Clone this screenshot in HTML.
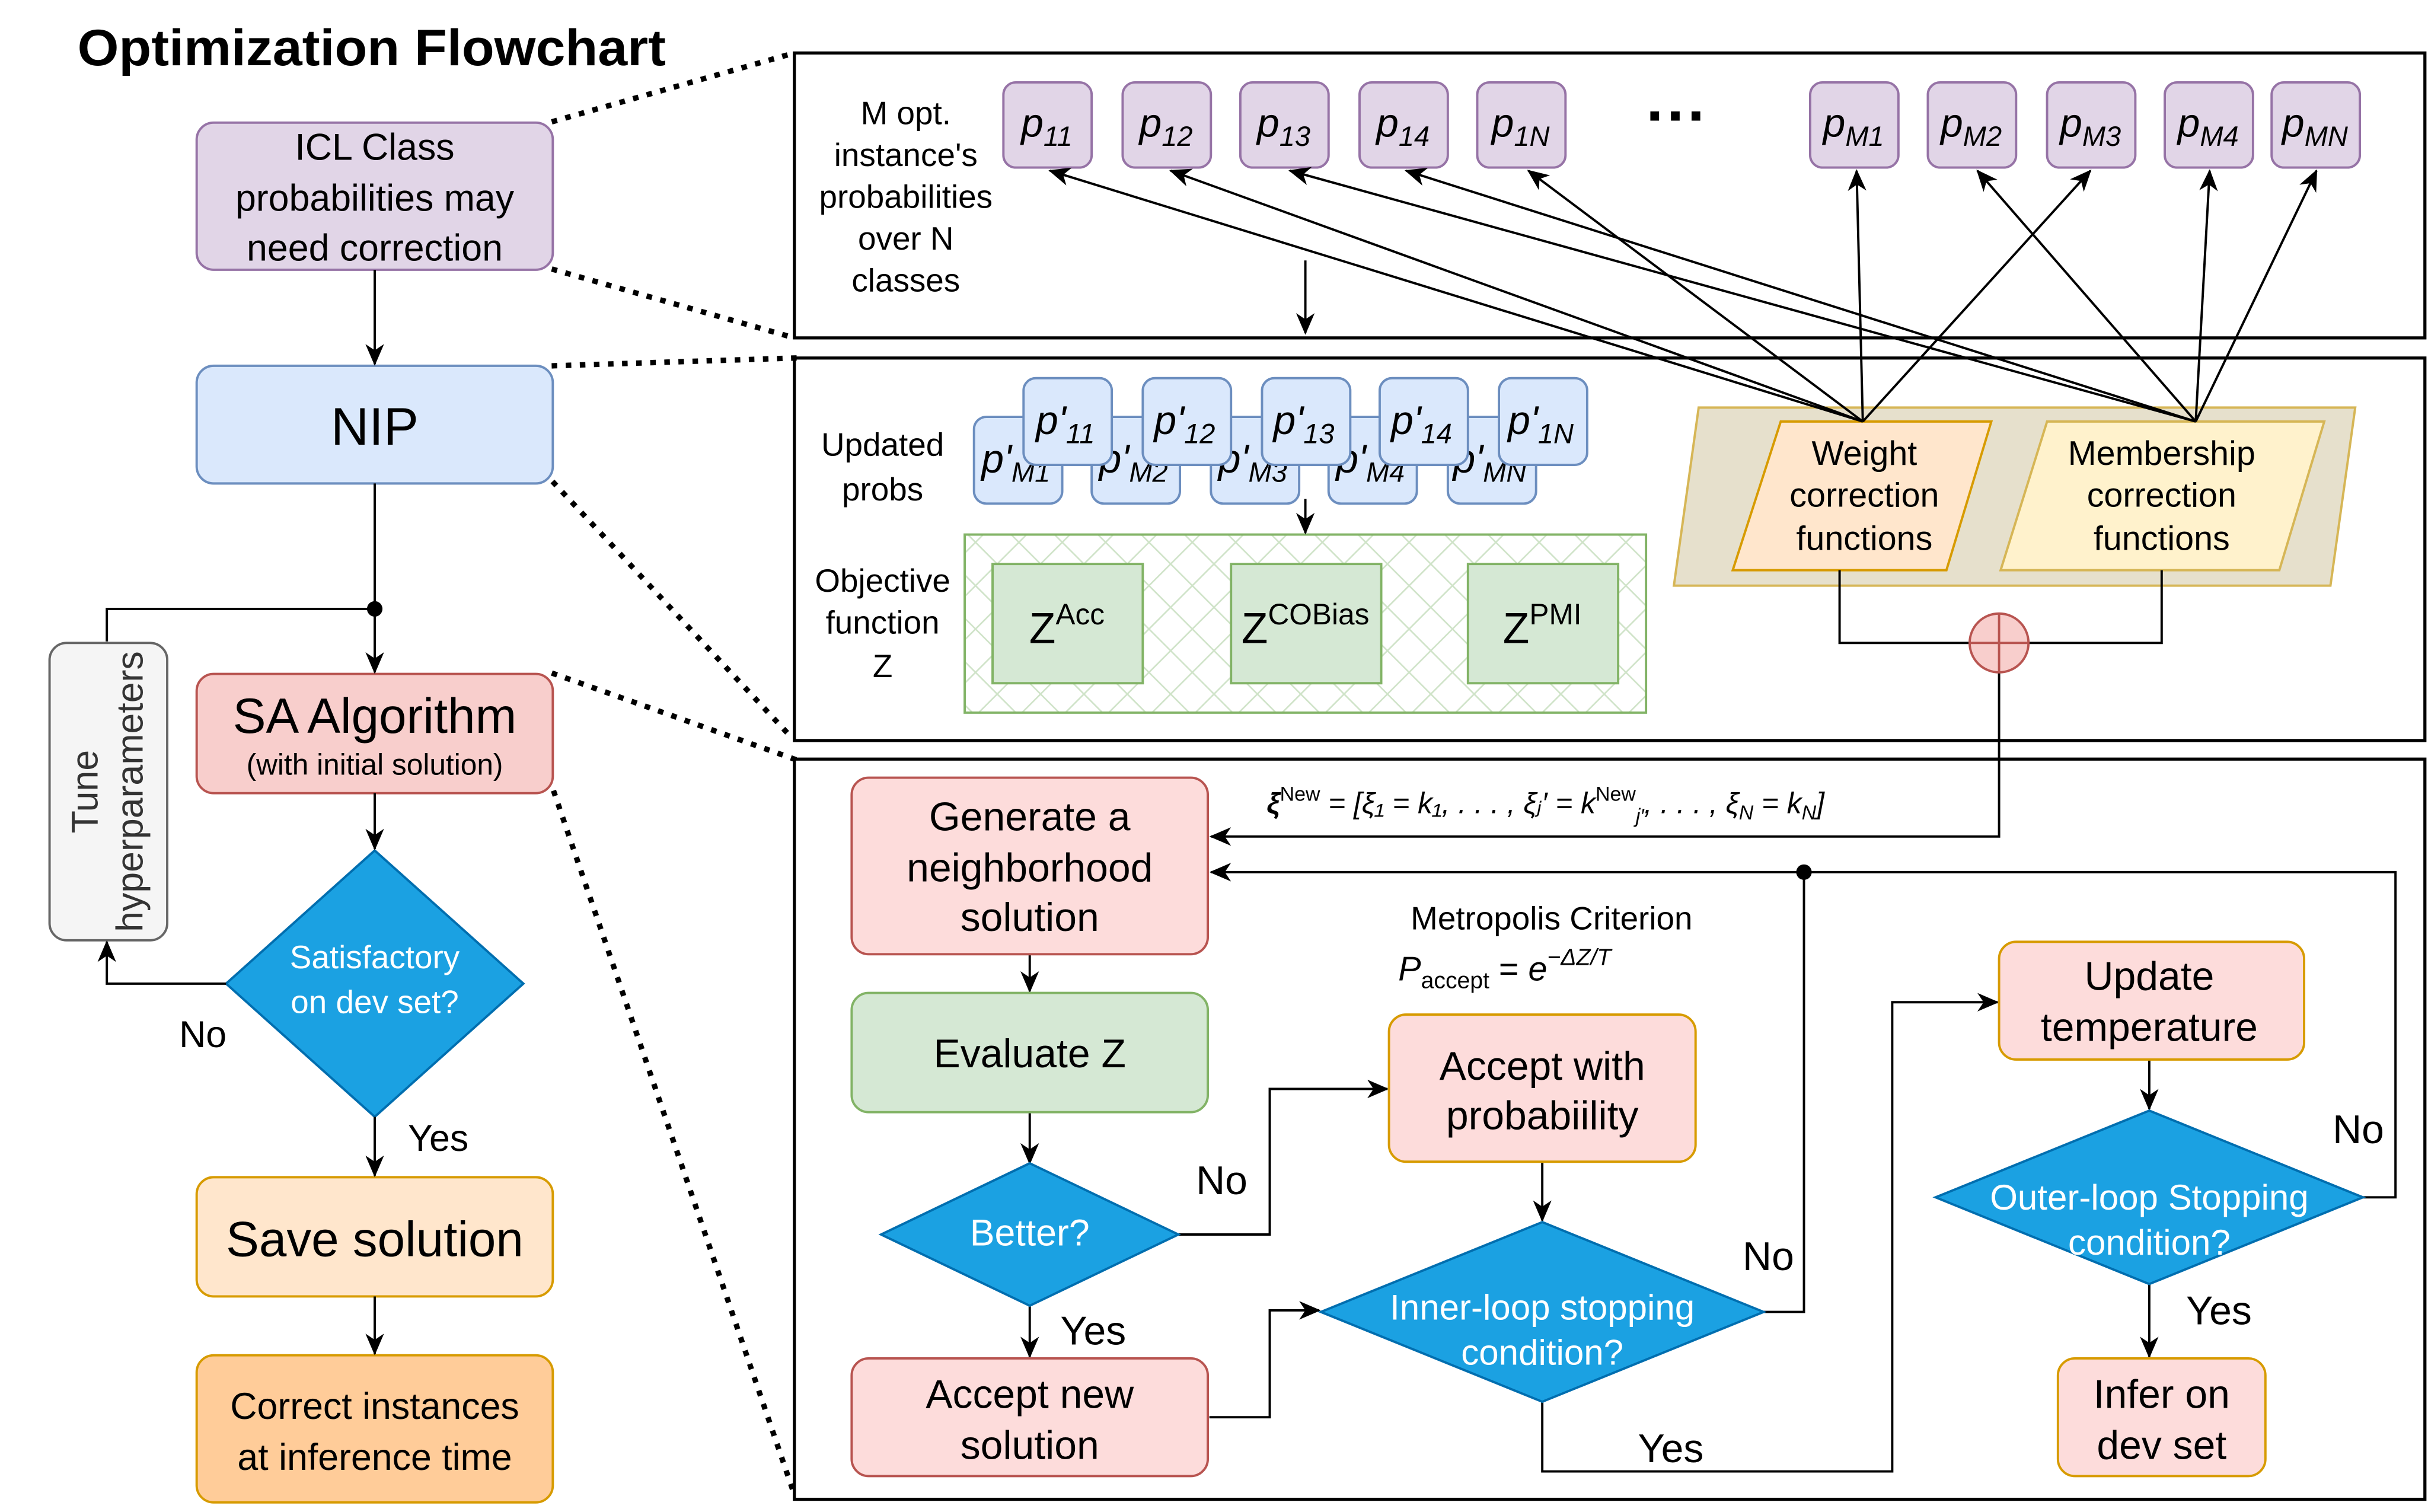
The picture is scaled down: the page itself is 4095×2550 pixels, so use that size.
<!DOCTYPE html>
<html><head><meta charset="utf-8"><style>html,body{margin:0;padding:0;background:#fff}svg{display:block}text{font-family:"Liberation Sans","DejaVu Sans",sans-serif}</style></head><body>
<svg width="4095" height="2550" viewBox="0 0 1568 976" xmlns="http://www.w3.org/2000/svg">
<defs>
<marker id="a" markerUnits="userSpaceOnUse" markerWidth="14" markerHeight="12" refX="13" refY="6" orient="auto"><path d="M0,0 L14,6 L0,12 L4,6 Z" fill="#000"/></marker>
<pattern id="h" width="28" height="28" patternUnits="userSpaceOnUse"><rect width="28" height="28" fill="#fff"/><path d="M0,0 L28,28 M28,0 L0,28" stroke="#cfe3c8" stroke-width="1"/></pattern>
</defs>
<g fill="none" stroke="#000" stroke-width="3.5" stroke-dasharray="0.1 9" stroke-linecap="square">
<line x1="358" y1="78" x2="513" y2="34"/><line x1="358" y1="174" x2="513" y2="218"/><line x1="358" y1="236" x2="513" y2="231"/><line x1="358" y1="312" x2="513" y2="478"/><line x1="358" y1="435" x2="513" y2="490"/><line x1="358" y1="512" x2="513" y2="965"/>
</g>
<text x="50" y="42" font-size="33" font-weight="bold" textLength="380" lengthAdjust="spacingAndGlyphs">Optimization Flowchart</text>
<g stroke-width="1.5">
<rect x="127" y="79" width="230" height="95" rx="11" fill="#e1d5e7" stroke="#9673a6"/>
<rect x="127" y="236" width="230" height="76" rx="11" fill="#dae8fc" stroke="#6c8ebf"/>
<rect x="32" y="415" width="76" height="192" rx="11" fill="#f5f5f5" stroke="#666"/>
<rect x="127" y="435" width="230" height="77" rx="11" fill="#f8cecc" stroke="#b85450"/>
<polygon points="242,549 338,635 242,721 146,635" fill="#1ba1e2" stroke="#006eaf"/>
<rect x="127" y="760" width="230" height="77" rx="11" fill="#ffe6cc" stroke="#d79b00"/>
<rect x="127" y="875" width="230" height="95" rx="11" fill="#ffcc99" stroke="#d79b00"/>
</g>
<g font-size="24" text-anchor="middle">
<text x="242" y="103">ICL Class</text><text x="242" y="136">probabilities may</text><text x="242" y="168">need correction</text>
<text x="242" y="287" font-size="34">NIP</text>
<text x="242" y="473" font-size="32">SA Algorithm</text><text x="242" y="500" font-size="19">(with initial solution)</text>
<text x="242" y="811" font-size="32">Save solution</text>
<text x="242" y="916">Correct instances</text><text x="242" y="949">at inference time</text>
<text x="242" y="625" font-size="21" fill="#fff">Satisfactory</text><text x="242" y="654" font-size="21" fill="#fff">on dev set?</text>
<text transform="translate(63,511) rotate(-90)" font-size="24" fill="#333">Tune</text>
<text transform="translate(92,511) rotate(-90)" font-size="24" fill="#333">hyperparameters</text>
<text x="131" y="676">No</text><text x="283" y="743">Yes</text>
</g>
<g fill="none" stroke="#000" stroke-width="1.5" marker-end="url(#a)">
<line x1="242" y1="174" x2="242" y2="235"/><line x1="242" y1="312" x2="242" y2="434"/>
<polyline points="242,393 69,393 69,414" marker-end="none"/>
<line x1="242" y1="512" x2="242" y2="548"/><polyline points="146,635 69,635 69,608"/>
<line x1="242" y1="721" x2="242" y2="759"/><line x1="242" y1="837" x2="242" y2="874"/>
</g>
<circle cx="242" cy="393" r="5" fill="#000"/>
<g fill="none" stroke="#000" stroke-width="2"><rect x="513" y="34" width="1053" height="184"/><rect x="513" y="231" width="1053" height="247"/><rect x="513" y="490" width="1053" height="478"/></g>
<g font-size="21" text-anchor="middle"><text x="585" y="80">M opt.</text><text x="585" y="107">instance's</text><text x="585" y="134">probabilities</text><text x="585" y="161">over N</text><text x="585" y="188">classes</text>
<text x="570" y="294">Updated</text><text x="570" y="323">probs</text><text x="570" y="382">Objective</text><text x="570" y="409">function</text><text x="570" y="437">Z</text></g>
<g stroke="#9673a6" stroke-width="1.5" fill="#e1d5e7">
<rect x="648" y="53" width="57" height="55" rx="8"/><rect x="725" y="53" width="57" height="55" rx="8"/><rect x="801" y="53" width="57" height="55" rx="8"/><rect x="878" y="53" width="57" height="55" rx="8"/><rect x="954" y="53" width="57" height="55" rx="8"/>
<rect x="1169" y="53" width="57" height="55" rx="8"/><rect x="1245" y="53" width="57" height="55" rx="8"/><rect x="1322" y="53" width="57" height="55" rx="8"/><rect x="1398" y="53" width="57" height="55" rx="8"/><rect x="1467" y="53" width="57" height="55" rx="8"/>
</g>
<g font-size="26" font-style="italic" text-anchor="middle">
<text x="676" y="88">p<tspan font-size="18" dy="6">11</tspan></text><text x="753" y="88">p<tspan font-size="18" dy="6">12</tspan></text><text x="829" y="88">p<tspan font-size="18" dy="6">13</tspan></text><text x="906" y="88">p<tspan font-size="18" dy="6">14</tspan></text><text x="982" y="88">p<tspan font-size="18" dy="6">1N</tspan></text>
<text x="1197" y="88">p<tspan font-size="18" dy="6">M1</tspan></text><text x="1273" y="88">p<tspan font-size="18" dy="6">M2</tspan></text><text x="1350" y="88">p<tspan font-size="18" dy="6">M3</tspan></text><text x="1426" y="88">p<tspan font-size="18" dy="6">M4</tspan></text><text x="1495" y="88">p<tspan font-size="18" dy="6">MN</tspan></text>
</g>
<text x="1083" y="88" font-size="40" font-weight="bold" text-anchor="middle">···</text>
<g stroke="#6c8ebf" stroke-width="1.5" fill="#dae8fc">
<rect x="629" y="269" width="57" height="56" rx="8"/><rect x="705" y="269" width="57" height="56" rx="8"/><rect x="782" y="269" width="57" height="56" rx="8"/><rect x="858" y="269" width="57" height="56" rx="8"/><rect x="935" y="269" width="57" height="56" rx="8"/>
</g>
<g font-size="26" font-style="italic" text-anchor="middle">
<text x="656" y="305">p'<tspan font-size="18" dy="6">M1</tspan></text><text x="732" y="305">p'<tspan font-size="18" dy="6">M2</tspan></text><text x="809" y="305">p'<tspan font-size="18" dy="6">M3</tspan></text><text x="885" y="305">p'<tspan font-size="18" dy="6">M4</tspan></text><text x="962" y="305">p'<tspan font-size="18" dy="6">MN</tspan></text>
</g>
<g stroke="#6c8ebf" stroke-width="1.5" fill="#dae8fc">
<rect x="661" y="244" width="57" height="56" rx="8"/><rect x="738" y="244" width="57" height="56" rx="8"/><rect x="815" y="244" width="57" height="56" rx="8"/><rect x="891" y="244" width="57" height="56" rx="8"/><rect x="968" y="244" width="57" height="56" rx="8"/>
</g>
<g font-size="26" font-style="italic" text-anchor="middle">
<text x="688" y="280">p'<tspan font-size="18" dy="6">11</tspan></text><text x="765" y="280">p'<tspan font-size="18" dy="6">12</tspan></text><text x="842" y="280">p'<tspan font-size="18" dy="6">13</tspan></text><text x="918" y="280">p'<tspan font-size="18" dy="6">14</tspan></text><text x="995" y="280">p'<tspan font-size="18" dy="6">1N</tspan></text>
</g>
<rect x="623" y="345" width="440" height="115" fill="url(#h)" stroke="#82b366" stroke-width="1.5"/>
<g fill="#d5e8d4" stroke="#82b366" stroke-width="1.5"><rect x="641" y="364" width="97" height="77"/><rect x="795" y="364" width="97" height="77"/><rect x="948" y="364" width="97" height="77"/></g>
<g font-size="28" text-anchor="middle"><text x="689" y="415">Z<tspan font-size="19" dy="-12">Acc</tspan></text><text x="843" y="415">Z<tspan font-size="19" dy="-12">COBias</tspan></text><text x="996" y="415">Z<tspan font-size="19" dy="-12">PMI</tspan></text></g>
<polygon points="1097,263 1521,263 1505,378 1081,378" fill="#e6e0cc" stroke="#d6b656" stroke-width="1.5"/>
<polygon points="1150,272 1286,272 1257,368 1119,368" fill="#ffe6cc" stroke="#d79b00" stroke-width="1.5"/>
<polygon points="1322,272 1501,272 1472,368 1292,368" fill="#fff2cc" stroke="#d6b656" stroke-width="1.5"/>
<g font-size="22" text-anchor="middle"><text x="1204" y="300">Weight</text><text x="1204" y="327">correction</text><text x="1204" y="355">functions</text><text x="1396" y="300">Membership</text><text x="1396" y="327">correction</text><text x="1396" y="355">functions</text></g>
<g fill="none" stroke="#000" stroke-width="1.5" marker-end="url(#a)">
<line x1="1203" y1="272" x2="678" y2="110"/><line x1="1203" y1="272" x2="756" y2="110"/><line x1="1418" y1="272" x2="833" y2="110"/><line x1="1418" y1="272" x2="908" y2="110"/><line x1="1203" y1="272" x2="987" y2="110"/><line x1="1203" y1="272" x2="1199" y2="110"/><line x1="1203" y1="272" x2="1350" y2="110"/><line x1="1418" y1="272" x2="1277" y2="110"/><line x1="1418" y1="272" x2="1427" y2="110"/><line x1="1418" y1="272" x2="1496" y2="110"/>
<line x1="843" y1="168" x2="843" y2="215"/><line x1="843" y1="322" x2="843" y2="344"/>
<polyline points="1188,368 1188,415 1396,415 1396,368" marker-end="none"/>
<polyline points="1291,434 1291,540 782,540"/>
<line x1="665" y1="616" x2="665" y2="640"/><line x1="665" y1="718" x2="665" y2="751"/>
<polyline points="761,797 820,797 820,703 896,703"/><line x1="665" y1="843" x2="665" y2="876"/>
<polyline points="781,915 820,915 820,846 852,846"/><line x1="996" y1="750" x2="996" y2="788"/>
<polyline points="1139,847 1165,847 1165,563 782,563"/>
<polyline points="996,905 996,950 1222,950 1222,647 1290,647"/>
<line x1="1388" y1="684" x2="1388" y2="716"/>
<polyline points="1526,773 1547,773 1547,563 1165,563" marker-end="none"/>
<line x1="1388" y1="829" x2="1388" y2="876"/>
</g>
<circle cx="1165" cy="563" r="5" fill="#000"/>
<circle cx="1291" cy="415" r="19" fill="#f8cecc" stroke="#b85450" stroke-width="1.5"/><path d="M1272,415 H1310 M1291,396 V434" stroke="#b85450" stroke-width="1.5"/>
<text x="818" y="525" font-size="19" font-family="Liberation Serif" font-style="italic"><tspan font-weight="bold">ξ</tspan><tspan font-size="13" dy="-8" font-style="normal">New</tspan><tspan dy="8"> = [ξ₁ = k₁, . . . , ξⱼ′ = k</tspan><tspan font-size="13" dy="-8" font-style="normal">New</tspan><tspan font-size="13" dy="14">j′</tspan><tspan dy="-6">, . . . , ξ</tspan><tspan font-size="13" dy="4">N</tspan><tspan dy="-4"> = k</tspan><tspan font-size="13" dy="4">N</tspan><tspan dy="-4">]</tspan></text>
<g stroke-width="1.5">
<rect x="550" y="502" width="230" height="114" rx="11" fill="#fddcdb" stroke="#b85450"/>
<rect x="550" y="641" width="230" height="77" rx="11" fill="#d5e8d4" stroke="#82b366"/>
<polygon points="665,751 761,797 665,843 569,797" fill="#1ba1e2" stroke="#006eaf"/>
<rect x="550" y="877" width="230" height="76" rx="11" fill="#fddcdb" stroke="#b85450"/>
<rect x="897" y="655" width="198" height="95" rx="11" fill="#fddcdb" stroke="#d79b00"/>
<polygon points="996,789 1139,847 996,905 853,847" fill="#1ba1e2" stroke="#006eaf"/>
<rect x="1291" y="608" width="197" height="76" rx="11" fill="#fddcdb" stroke="#d79b00"/>
<polygon points="1388,717 1526,773 1388,829 1250,773" fill="#1ba1e2" stroke="#006eaf"/>
<rect x="1329" y="877" width="134" height="76" rx="11" fill="#fddcdb" stroke="#d79b00"/>
</g>
<g font-size="26" text-anchor="middle">
<text x="665" y="536">Generate a</text><text x="665" y="569">neighborhood</text><text x="665" y="601">solution</text>
<text x="665" y="689">Evaluate Z</text>
<text x="665" y="804" fill="#fff" font-size="24">Better?</text>
<text x="665" y="909">Accept new</text><text x="665" y="942">solution</text>
<text x="996" y="697">Accept with</text><text x="996" y="729">probabiility</text>
<text x="996" y="852" fill="#fff" font-size="23">Inner-loop stopping</text><text x="996" y="881" fill="#fff" font-size="23">condition?</text>
<text x="1388" y="639">Update</text><text x="1388" y="672">temperature</text>
<text x="1388" y="781" fill="#fff" font-size="23">Outer-loop Stopping</text><text x="1388" y="810" fill="#fff" font-size="23">condition?</text>
<text x="1396" y="909">Infer on</text><text x="1396" y="942">dev set</text>
<text x="1002" y="600" font-size="21">Metropolis Criterion</text>
<text x="789" y="771">No</text><text x="706" y="868">Yes</text><text x="1142" y="820">No</text><text x="1079" y="944">Yes</text><text x="1523" y="738">No</text><text x="1433" y="855">Yes</text>
</g>
<text x="903" y="633" font-size="22" font-family="Liberation Serif" font-style="italic">P<tspan font-size="15" dy="5" font-style="normal">accept</tspan><tspan dy="-5" font-style="normal"> = </tspan>e<tspan font-size="15" dy="-10">−ΔZ/T</tspan></text>
</svg>
</body></html>
